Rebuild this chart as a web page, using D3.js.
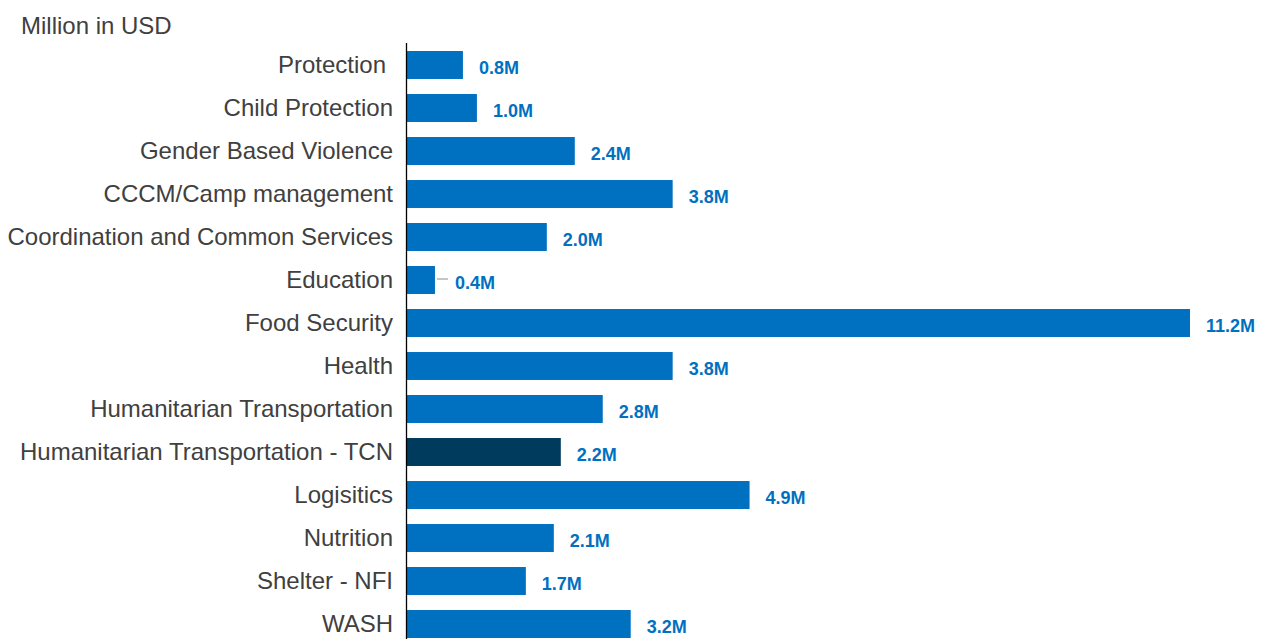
<!DOCTYPE html>
<html>
<head>
<meta charset="utf-8">
<script src="https://cdn.jsdelivr.net/npm/d3@7"></script>
<style>
  html, body { margin: 0; padding: 0; background: #fff; }
  svg { display: block; }
  text { font-family: "Liberation Sans", Arial, sans-serif; }
</style>
</head>
<body>
<svg id="chart" width="1262" height="639"></svg>
<script>
// Funding by sector, million USD
const sectors = [
  "Protection",
  "Child Protection",
  "Gender Based Violence",
  "CCCM/Camp management",
  "Coordination and Common Services",
  "Education",
  "Food Security",
  "Health",
  "Humanitarian Transportation",
  "Humanitarian Transportation - TCN",
  "Logisitics",
  "Nutrition",
  "Shelter - NFI",
  "WASH"
];
const amounts = [0.8, 1.0, 2.4, 3.8, 2.0, 0.4, 11.2, 3.8, 2.8, 2.2, 4.9, 2.1, 1.7, 3.2];
const highlighted = ["Humanitarian Transportation - TCN"];
const unitTitle = "Million in USD";

const rows = sectors.map((s, i) => ({ sector: s, value: amounts[i] }));

const svg = d3.select("#chart");
const baseX = 407;

const x = d3.scaleLinear()
  .domain([0, d3.max(amounts)])
  .range([baseX, 1190]);

const y = d3.scaleBand()
  .domain(sectors)
  .range([43.5, 645.5])
  .paddingInner(0.35)
  .paddingOuter(0.175);

// Unit caption
svg.append("text")
  .attr("x", 21)
  .attr("y", 33.5)
  .attr("font-size", 24)
  .attr("fill", "#404040")
  .text(unitTitle);

// Bars
svg.append("g")
  .selectAll("rect")
  .data(rows)
  .join("rect")
  .attr("x", baseX)
  .attr("y", d => y(d.sector))
  .attr("width", d => x(d.value) - baseX)
  .attr("height", y.bandwidth())
  .attr("fill", d => highlighted.includes(d.sector) ? "#003A5D" : "#0070C0");

// Category axis
const axis = svg.append("g")
  .attr("transform", `translate(${baseX - 1},0)`)
  .call(d3.axisLeft(y).tickSize(0).tickPadding(13));
axis.select(".domain")
  .attr("d", "M0.5,43V639")
  .attr("stroke", "#000")
  .attr("stroke-width", 1.3);
axis.selectAll(".tick text")
  .attr("font-size", 24)
  .attr("fill", "#404040")
  .attr("font-family", "'Liberation Sans', Arial, sans-serif")
  .attr("dy", "0.35em")
  .attr("dx", d => d === "Protection" ? -7 : 0);

// Leader line for short bars
const shortRows = rows.filter(d => x(d.value) - baseX < 40);
svg.append("g")
  .selectAll("line")
  .data(shortRows)
  .join("line")
  .attr("x1", d => x(d.value) + 2)
  .attr("x2", d => x(d.value) + 13)
  .attr("y1", d => y(d.sector) + y.bandwidth() / 2 - 1)
  .attr("y2", d => y(d.sector) + y.bandwidth() / 2 - 1)
  .attr("stroke", "#A6A6A6")
  .attr("stroke-width", 1.3);

// Value labels
svg.append("g")
  .selectAll("text")
  .data(rows)
  .join("text")
  .attr("x", d => x(d.value) + (x(d.value) - baseX < 40 ? 20 : 16))
  .attr("y", d => y(d.sector) + y.bandwidth() / 2 + 3)
  .attr("dy", "0.35em")
  .attr("font-size", 18)
  .attr("font-weight", "bold")
  .attr("fill", "#0070C0")
  .text(d => d.value.toFixed(1) + "M");
</script>
</body>
</html>
